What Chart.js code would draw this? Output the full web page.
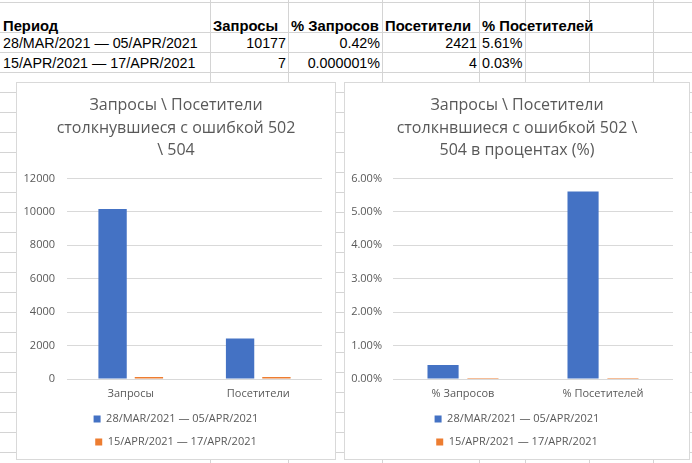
<!DOCTYPE html>
<html>
<head>
<meta charset="utf-8">
<script src="https://cdn.jsdelivr.net/npm/chart.js@4"></script>
<style>
html, body { margin: 0; padding: 0; background: #fff; }
#sheet { position: relative; width: 692px; height: 463px; overflow: hidden; font-family: "Liberation Sans", Arial, sans-serif; }
.hline { position: absolute; left: 0; width: 692px; height: 1px; background: #d4d4d4; }
.vline { position: absolute; top: 0; width: 1px; height: 463px; background: #d4d4d4; }
.cell { position: absolute; height: 20px; line-height: 20px; font-size: 14.3px; color: #000; white-space: nowrap; }
.cell.head { font-weight: bold; font-size: 14.8px; }
.box { position: absolute; top: 82px; height: 376px; border: 1px solid #d9d9d9; background: #fff; }
</style>
</head>
<body>
<div id="sheet">
	<div class="box" id="box-count" style="left:16px;width:318px;"><canvas id="chart-count"></canvas></div>
	<div class="box" id="box-pct" style="left:344px;width:344px;"><canvas id="chart-pct"></canvas></div>
</div>
<script>
const headers = ["Период", "Запросы", "% Запросов", "Посетители", "% Посетителей"];
const periods = ["28/MAR/2021 — 05/APR/2021", "15/APR/2021 — 17/APR/2021"];
const requests = [10177, 7];
const requestsPct = [0.42, 0.000001];
const visitors = [2421, 4];
const visitorsPct = [5.61, 0.03];

const countLabels = ["Запросы", "Посетители"];
const pctLabels = ["% Запросов", "% Посетителей"];
const countTitle = ["Запросы \\ Посетители", "столкнувшиеся с ошибкой 502", "\\ 504"];
const pctTitle = ["Запросы \\ Посетители", "столкнвшиеся с ошибкой 502 \\", "504 в процентах (%)"];
const countMax = 12000, countStep = 2000;
const pctMax = 6, pctStep = 1;
const seriesColors = ["#4472c4", "#ed7d31"];

// spreadsheet grid behind the charts
const sheet = document.getElementById("sheet");
const firstBox = document.getElementById("box-count");
const rowLines = [2];
for (let y = 32; y < 463; y += 20) rowLines.push(y);
const colLines = [210, 288, 382, 479, 525, 589, 653];
rowLines.forEach(y => {
	const d = document.createElement("div");
	d.className = "hline";
	d.style.top = y + "px";
	sheet.insertBefore(d, firstBox);
});
colLines.forEach(x => {
	const d = document.createElement("div");
	d.className = "vline";
	d.style.left = x + "px";
	sheet.insertBefore(d, firstBox);
});

// table cells
const cols = [[0, 210], [210, 288], [288, 382], [382, 479], [479, 525]];
function addCell(text, col, top, alignRight, head) {
	const d = document.createElement("div");
	d.className = head ? "cell head" : "cell";
	d.textContent = text;
	const [a, b] = cols[col];
	if (alignRight) {
		d.style.left = a + "px";
		d.style.width = (b - a - 2) + "px";
		d.style.textAlign = "right";
	} else {
		d.style.left = (a + 3) + "px";
	}
	d.style.top = top + "px";
	sheet.insertBefore(d, firstBox);
}
headers.forEach((h, i) => addCell(h, i, 15.5, false, true));
periods.forEach((p, i) => {
	const top = 33 + i * 20;
	addCell(p, 0, top, false, false);
	addCell(String(requests[i]), 1, top, true, false);
	addCell(String(requestsPct[i]) + "%", 2, top, true, false);
	addCell(String(visitors[i]), 3, top, true, false);
	addCell(String(visitorsPct[i]) + "%", 4, top, false, false);
});

const grey = "#595959";
const font = "'Open Sans', 'Noto Sans', sans-serif";

function makeChart(id, labels, series, title, max, step, fmt, yWidth, yPad, rightGap, minLen) {
	return new Chart(id, {
		type: "bar",
		data: {
			labels: labels,
			datasets: periods.map((p, i) => ({
				label: p,
				data: series[i],
				backgroundColor: seriesColors[i],
				categoryPercentage: 0.57,
				barPercentage: 0.78,
				inflateAmount: 0,
				minBarLength: minLen,
				yAxisID: "y",
			})),
		},
		options: {
			responsive: true,
			maintainAspectRatio: false,
			animation: false,
			layout: { padding: { left: 0, right: 0, top: 0, bottom: 1.5 } },
			plugins: {
				title: {
					display: true,
					text: title,
					color: grey,
					font: { family: font, size: 16, weight: "normal", lineHeight: 1.39 },
					padding: { top: 11.6, bottom: 17.1 },
				},
				legend: {
					position: "bottom",
					labels: {
						boxWidth: 7,
						boxHeight: 7,
						padding: 12,
						color: grey,
						font: { family: font, size: 11 },
					},
				},
				tooltip: { enabled: false },
			},
			scales: {
				x: {
					grid: { display: false, drawTicks: false },
					border: { display: false },
					ticks: { color: grey, font: { family: font, size: 11 }, padding: 8 },
					afterFit: s => { s.height = 22.5; },
				},
				y: {
					position: "left",
					min: 0,
					max: max,
					border: { display: false },
					grid: { color: "#d9d9d9", drawTicks: false },
					ticks: { stepSize: step, color: grey, font: { family: font, size: 11 }, padding: yPad, callback: fmt },
					afterFit: s => { s.width = yWidth; },
				},
				// empty right-hand space, like Excel's plot area inset
				yRight: {
					position: "right",
					min: 0,
					max: max,
					grid: { display: false, drawTicks: false },
					border: { display: false },
					ticks: { display: false },
					afterFit: s => { s.width = rightGap; },
				},
			},
		},
	});
}

makeChart("chart-count", countLabels,
	periods.map((p, i) => [requests[i], visitors[i]]),
	countTitle, countMax, countStep, v => String(v), 50, 12, 13, 2);

makeChart("chart-pct", pctLabels,
	periods.map((p, i) => [requestsPct[i], visitorsPct[i]]),
	pctTitle, pctMax, pctStep, v => v.toFixed(2) + "%", 48, 11, 16, 0);
</script>
</body>
</html>
